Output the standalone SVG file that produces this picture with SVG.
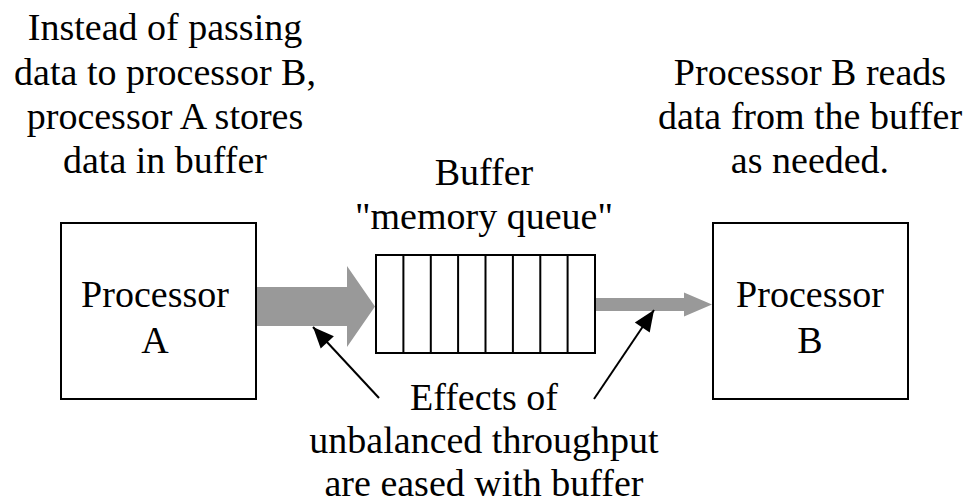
<svg xmlns="http://www.w3.org/2000/svg" width="972" height="504" viewBox="0 0 972 504">
<style>
text{font-family:"Liberation Serif","Times New Roman",serif;font-size:38px;fill:#000;text-anchor:middle}
.box{fill:#fff;stroke:#000;stroke-width:2}
.flow{fill:#999}
.ptr{stroke:#000;stroke-width:2;fill:none;marker-end:url(#ah)}
</style>
<defs>
<marker id="ah" viewBox="0 0 10 10" refX="9" refY="5" markerWidth="10" markerHeight="10" markerUnits="userSpaceOnUse" orient="auto" overflow="visible">
<path d="M-12,-4 L9,5 L-12,14 Z" fill="#000"/>
</marker>
</defs>
<rect width="972" height="504" fill="#fff"/>
<g id="note-left">
<text x="165" y="40">Instead of passing</text>
<text x="165" y="85">data to processor B,</text>
<text x="165" y="129">processor A stores</text>
<text x="165" y="173">data in buffer</text>
</g>
<g id="note-right">
<text x="810" y="85">Processor B reads</text>
<text x="810" y="129">data from the buffer</text>
<text x="810" y="173">as needed.</text>
</g>
<g id="processorA">
<rect class="box" x="61" y="223" width="195" height="176"/>
<text x="155" y="307">Processor</text>
<text x="155" y="353">A</text>
</g>
<g id="processorB">
<rect class="box" x="713" y="223" width="195" height="176"/>
<text x="810" y="307">Processor</text>
<text x="810" y="353">B</text>
</g>
<g id="buffer">
<text x="484" y="185">Buffer</text>
<text x="484" y="229">"memory queue"</text>
<rect class="box" x="376" y="255" width="219" height="98"/>
<path d="M403.4,255V353M430.8,255V353M458.1,255V353M485.5,255V353M512.9,255V353M540.3,255V353M567.6,255V353" stroke="#000" stroke-width="2"/>
</g>
<g id="note-bottom">
<text x="484" y="410">Effects of</text>
<text x="484" y="453">unbalanced throughput</text>
<text x="484" y="496">are eased with buffer</text>
</g>
<g id="connectors">
<polygon class="flow" points="257,287 347,287 347,266 375,306.5 347,347 347,326 257,326"/>
<polygon class="flow" points="596,298 684,298 684,292.5 712,304.5 684,316.5 684,311 596,311"/>
<line class="ptr" x1="379" y1="398" x2="313" y2="327"/>
<line class="ptr" x1="594" y1="399" x2="654" y2="310"/>
</g>
</svg>
